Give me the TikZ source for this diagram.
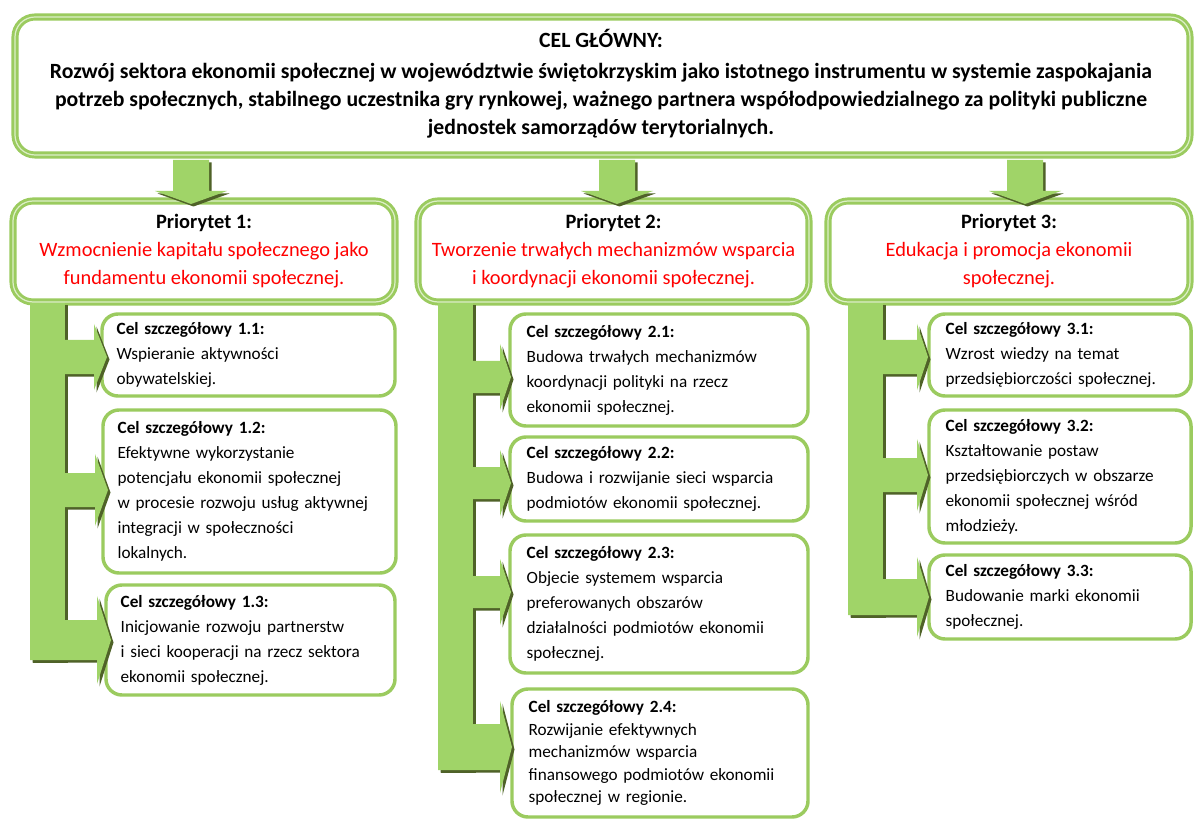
\documentclass[tikz,border=0pt]{standalone}
\usepackage{fontspec}
\setmainfont{Carlito}
\definecolor{gbord}{HTML}{9BCB5F}
\definecolor{gfill}{HTML}{A0D468}
\definecolor{gshadow}{HTML}{4F6228}
\definecolor{gpale}{HTML}{DDEFC8}
\definecolor{redtxt}{HTML}{FF0000}
\tikzset{
  bigbox/.style={draw=gbord, double=gpale, double distance=0.9pt, line width=2.2pt,
    rounded corners=15pt, fill=white, inner sep=0pt, align=center},
  smallbox/.style={draw=gbord, line width=2.6pt, rounded corners=12pt, fill=white,
    inner xsep=11pt, inner ysep=0pt, align=left},
  toptext/.style={font=\fontsize{16.3}{21}\selectfont\bfseries, align=center, inner sep=0pt},
  pritext/.style={font=\fontsize{15.3}{21}\selectfont},
  subtext/.style={font=\fontsize{12.9}{18.75}\selectfont},
}
\def\twcut{16}
% big box: name, x1, y1, x2, y2, style, text
\newcommand\mybigbox[7]{%
  \pgfmathsetmacro\bw{(#4-#2-6)*0.75}%
  \pgfmathsetmacro\bh{(#5-#3-6)*0.75}%
  \node[bigbox,#6, minimum width=\bw pt, minimum height=\bh pt]
    (#1) at ({(#2+#4)/2},{(#3+#5)/2}) {#7};}
% small box: name, x1, y1, x2, y2, style, text
\newcommand\mysmallbox[7]{%
  \pgfmathsetmacro\bw{(#4-#2-4)*0.75}%
  \pgfmathsetmacro\bh{(#5-#3-4)*0.75}%
  \pgfmathsetmacro\tw{\bw-\twcut}%
  \node[smallbox,#6, minimum width=\bw pt, minimum height=\bh pt, text width=\tw pt]
    (#1) at ({(#2+#4)/2},{(#3+#5)/2}) {#7};}
% horizontal arrow polygon: xl, xbase, xtip, ycenter, shaft half, head half
\newcommand\harrowpath[6]{(#1,#4-#5) -- (#2,#4-#5) -- (#2,#4-#6) -- (#3,#4) -- (#2,#4+#6) -- (#2,#4+#5) -- (#1,#4+#5) -- cycle}
% down arrow polygon: centre x
\newcommand\darrowpath[1]{(#1-18,160) -- (#1+18,160) -- (#1+18,191) -- (#1+36,191) -- (#1,204) -- (#1-36,191) -- (#1-18,191) -- cycle}
\newcommand\colshapes[1]{%
  \fill[#1] (30,303) rectangle (65,660);
  \fill[#1] \harrowpath{64}{94}{107}{357}{17}{33};
  \fill[#1] \harrowpath{64}{95}{108}{490}{17}{36};
  \fill[#1] \harrowpath{30}{97}{111}{640}{20}{44};
  \fill[#1] (438,303) rectangle (473,770);
  \fill[#1] \harrowpath{472}{500}{511}{377}{16}{33};
  \fill[#1] \harrowpath{472}{500}{511}{483}{16}{33};
  \fill[#1] \harrowpath{472}{500}{511}{592}{16}{33};
  \fill[#1] \harrowpath{438}{500}{512}{747}{23}{46};
  \fill[#1] (848,303) rectangle (883,615);
  \fill[#1] \harrowpath{882}{917}{928}{357}{17}{33};
  \fill[#1] \harrowpath{882}{917}{928}{475}{17}{36};
  \fill[#1] \harrowpath{848}{917}{929}{597}{18}{40};
  \fill[#1] \darrowpath{191};
  \fill[#1] \darrowpath{617};
  \fill[#1] \darrowpath{1025};
}
\begin{document}
\begin{tikzpicture}[x=0.75pt,y=-0.75pt]
\useasboundingbox[fill=white] (0,0) rectangle (1195,823);

% top box
\mybigbox{top}{12}{14}{1193}{158}{}{}
\node[toptext] (toptxt) at (601,84) {CEL GŁÓWNY:\\[2.25pt]
Rozwój sektora ekonomii społecznej w województwie świętokrzyskim jako istotnego instrumentu w systemie zaspokajania\\
potrzeb społecznych, stabilnego uczestnika gry rynkowej, ważnego partnera współodpowiedzialnego za polityki publiczne\\
jednostek samorządów terytorialnych.};

% priority boxes
\mybigbox{p1}{10}{198}{398}{305}{pritext}{\textbf{Priorytet 1:}\\
\textcolor{redtxt}{Wzmocnienie kapitału społecznego jako}\\
\textcolor{redtxt}{fundamentu ekonomii społecznej.}}
\mybigbox{p2}{415}{198}{812}{305}{pritext}{\textbf{Priorytet 2:}\\
\textcolor{redtxt}{Tworzenie trwałych mechanizmów wsparcia}\\
\textcolor{redtxt}{i koordynacji ekonomii społecznej.}}
\mybigbox{p3}{825}{198}{1193}{305}{pritext}{\textbf{Priorytet 3:}\\
\textcolor{redtxt}{Edukacja i promocja ekonomii}\\
\textcolor{redtxt}{społecznej.}}

% sub boxes column 1
\mysmallbox{c11}{104}{312}{393}{398}{subtext}{\textbf{Cel szczegółowy 1.1:}\\
Wspieranie aktywności\\ obywatelskiej.}
\mysmallbox{c12}{105}{408}{394}{575}{subtext}{\textbf{Cel szczegółowy 1.2:}\\
Efektywne wykorzystanie\\ potencjału ekonomii społecznej\\ w procesie rozwoju usług aktywnej\\ integracji w społeczności\\ lokalnych.}
\mysmallbox{c13}{108}{583}{393}{697}{subtext}{\textbf{Cel szczegółowy 1.3:}\\
Inicjowanie rozwoju partnerstw\\ i sieci kooperacji na rzecz sektora\\ ekonomii społecznej.}

% column 2
\def\twcut{25}
\mysmallbox{c21}{508}{312}{810}{428}{subtext}{\textbf{Cel szczegółowy 2.1:}\\
Budowa trwałych mechanizmów\\ koordynacji polityki na rzecz\\ ekonomii społecznej.}
\mysmallbox{c22}{508}{435}{810}{523}{subtext}{\textbf{Cel szczegółowy 2.2:}\\
Budowa i rozwijanie sieci wsparcia\\ podmiotów ekonomii społecznej.}
\mysmallbox{c23}{508}{533}{810}{675}{subtext}{\textbf{Cel szczegółowy 2.3:}\\
Objecie systemem wsparcia\\ preferowanych obszarów\\ działalności podmiotów ekonomii\\ społecznej.}
\mysmallbox{c24}{510}{687}{810}{819}{font=\fontsize{12.9}{16.9}\selectfont}{\textbf{Cel szczegółowy 2.4:}\\
Rozwijanie efektywnych\\ mechanizmów wsparcia\\ finansowego podmiotów ekonomii\\ społecznej w regionie.}

% column 3
\mysmallbox{c31}{927}{312}{1193}{398}{subtext}{\textbf{Cel szczegółowy 3.1:}\\
Wzrost wiedzy na temat\\ przedsiębiorczości społecznej.}
\mysmallbox{c32}{927}{408}{1193}{545}{subtext}{\textbf{Cel szczegółowy 3.2:}\\
Kształtowanie postaw\\ przedsiębiorczych w obszarze\\ ekonomii społecznej wśród\\ młodzieży.}
\mysmallbox{c33}{927}{553}{1193}{641}{subtext}{\textbf{Cel szczegółowy 3.3:}\\
Budowanie marki ekonomii\\ społecznej.}

% arrows (shadow then fill)
\colshapes{gshadow, shift={(2.5,2.5)}}
\colshapes{gfill}
\end{tikzpicture}
\end{document}
